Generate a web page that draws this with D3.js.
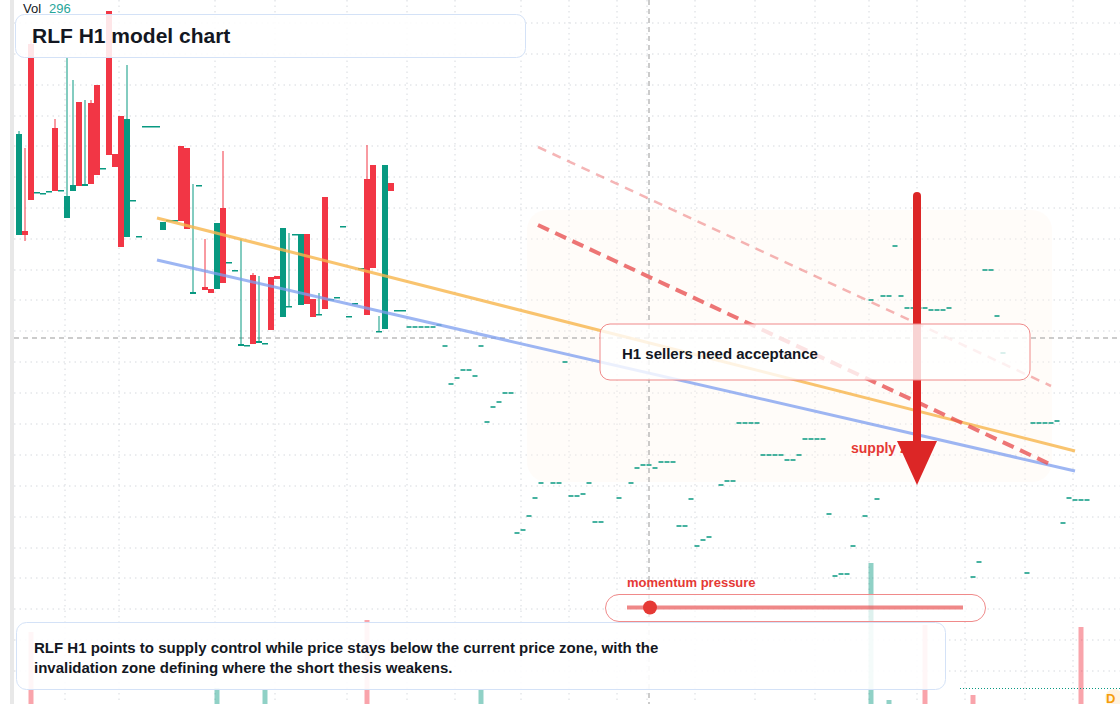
<!DOCTYPE html>
<html><head><meta charset="utf-8">
<script src="https://cdn.jsdelivr.net/npm/d3@7"></script>
<style>body{margin:0;background:#fff;font-family:"Liberation Sans",Arial,sans-serif}</style>
</head><body><svg id="c" width="1120" height="704"></svg>
<script>
// candle index, open, close, high, low
const cIdx  = [0,1,2,3,4,5,6,7,8,9,10,11,12,13,14,15,16,17,18,19,20,21,22,23,24,25,26,27,28,29,30,31,32,33,34,35,36,37,38,39,40,41,42,43,44,45,46,47,48,49,50,51,52,53,54,55,56,57,58,59,60,61,62,63,64];
const cOpen = [765,769,956,808,807,809,872,810,782,809,898,814,897,915,832,989,846,884,763,800,764,874,874,874,770,780,780,854,852,706,815,713,711,711,792,738,730,654,655,725,657,657,723,724,683,694,766,695,766,701,686,803,701,703,774,684,697,732,821,835,669,671,817,690,690];
const cClose= [866,765,800,808,807,809,809,810,804,815,814,816,816,825,832,845,833,753,881,800,764,874,874,874,778,780,780,779,771,708,815,710,707,777,717,738,730,656,655,656,659,657,670,721,772,694,766,766,696,683,686,691,701,703,774,684,697,732,685,732,669,835,809,690,690];
const cHigh = [869,852,960,808,807,809,881,810,942,920,898,900,900,915,832,989,846,884,935,800,764,874,874,874,778,780,780,854,852,816,815,761,711,777,849,738,730,761,655,727,724,657,723,724,772,767,766,766,766,701,707,803,701,703,774,684,697,732,855,835,684,835,817,690,690];
const cLow  = [765,759,800,808,807,809,809,810,782,809,814,814,816,825,832,845,833,753,763,800,764,874,874,874,770,780,780,779,771,706,815,710,707,711,717,738,730,654,655,656,657,657,670,721,683,694,766,695,696,683,686,691,701,703,774,684,697,732,685,732,669,671,809,690,690];
// flat (unchanged) bars later in the session
const fIdx = [65,66,67,68,69,70,71,72,73,74,75,76,77,78,79,80,81,82,83,84,85,86,87,89,90,91,92,93,94,95,96,97,100,102,103,104,105,106,107,108,109,110,111,112,113,114,115,117,118,119,120,121,122,123,124,125,126,127,128,129,130,131,132,133,134,135,136,137,138,139,141,142,143,144,145,146,147,148,149,150,151,152,153,154,155,159,160,161,162,163,164,168,169,170,171,172,173,174,175,176,177,178];
const fLvl = [673,673,673,673,673,675,654,616,622,630,630,624,654,578,593,598,607,607,467,470,484,502,517,517,517,638,504,504,506,517,478,478,502,517,532,535,535,532,538,538,538,474,474,501,454,460,463,515,519,519,577,577,577,577,545,545,545,545,540,540,545,561,561,561,561,486,424,426,426,454,484,700,501,704,704,754,704,692,692,692,692,690,690,690,692,423,438,730,730,684,647,427,577,577,577,577,579,477,502,500,500,500];
// volume
const vIdx = [2,33,41,58,77,142,145,151,159,177];
const vVal = [72,16,15,84,14,141,4,79,9,77];
const vUp  = [0,1,1,0,1,1,1,0,0,0];
const gridIdx = [8,17,33,43,55,65,73,84,92,100,105,113,123,133,142,150,158,168,176];
const gridLvl = [977,946,915,884,854,823,792,761,730,700,669,638,607,576,545,514,483,452,422,391,360,329];

const W=1120,H=704, svg=d3.select("#c");
const x=d3.scaleLinear().domain([0,180]).range([19,1099]);
const y=d3.scaleLinear().domain([296,1000]).range([704,0]);
const vy=d3.scaleLinear().domain([0,141]).range([704,563]);
const G="#089981",R="#f23645";

svg.append("rect").attr("x",10).attr("y",0).attr("width",4).attr("height",H).attr("fill","#e8e8e8");
const grid=svg.append("g").attr("stroke","#d6d9de").attr("stroke-dasharray","1.5 4").attr("stroke-width",1);
gridIdx.forEach(i=>grid.append("line").attr("x1",x(i)-2).attr("x2",x(i)-2).attr("y1",0).attr("y2",H));
gridLvl.forEach(p=>grid.append("line").attr("x1",14).attr("x2",W).attr("y1",y(p)).attr("y2",y(p)));

// faint zone
svg.append("rect").attr("x",527).attr("y",210).attr("width",525).attr("height",272).attr("rx",20).attr("fill","#fff5ee").attr("opacity",0.35);

// volume
vIdx.forEach((i,k)=>svg.append("rect").attr("x",x(i)-2.5).attr("width",5).attr("y",vy(vVal[k])).attr("height",704-vy(vVal[k])).attr("fill",vUp[k]?G:R).attr("opacity",0.45));

// crosshair
svg.append("line").attr("x1",649).attr("x2",649).attr("y1",0).attr("y2",H).attr("stroke","#999").attr("stroke-dasharray","5 4");
svg.append("line").attr("x1",14).attr("x2",W).attr("y1",y(662)).attr("y2",y(662)).attr("stroke","#999").attr("stroke-dasharray","5 4");

// candles
const cg=svg.append("g");
cIdx.forEach((i,k)=>{
  const o=cOpen[k],c=cClose[k],col=c>=o?G:R;
  if(cHigh[k]!==cLow[k]) cg.append("line").attr("x1",x(i)).attr("x2",x(i)).attr("y1",y(cHigh[k])).attr("y2",y(cLow[k])).attr("stroke",col).attr("stroke-width",1);
  const t=y(Math.max(o,c)),b=y(Math.min(o,c));
  cg.append("rect").attr("x",x(i)-3).attr("width",6).attr("y",t).attr("height",Math.max(1.5,b-t)).attr("fill",col);
});
fIdx.forEach((i,k)=>cg.append("rect").attr("x",x(i)-2.5).attr("width",5).attr("y",y(fLvl[k])-0.75).attr("height",1.5).attr("fill",G));

// trend lines
const ln=(x1,y1,x2,y2,col,w,op,dash)=>svg.append("line").attr("x1",x1).attr("y1",y(y1)).attr("x2",x2).attr("y2",y(y2)).attr("stroke",col).attr("stroke-width",w).attr("opacity",op).attr("stroke-dasharray",dash||null);
ln(x(23),782,x(176),549,"#f8b64c",3,0.8);
ln(x(23),740,x(176),529,"#7d9ef0",3,0.75);
ln(x(86.5),775,x(172.5),534,"#e8494a",4,0.75,"12 7");
ln(x(86.5),853,x(172),614,"#e8494a",2.5,0.4,"9 7");

// arrow
svg.append("line").attr("x1",917).attr("x2",917).attr("y1",196).attr("y2",445).attr("stroke","#dc2626").attr("stroke-width",8).attr("stroke-linecap","round");
svg.append("text").attr("x",851).attr("y",453).attr("fill","#e53935").attr("font-size",14).attr("font-weight","bold").text("supply zone");
svg.append("path").attr("d","M897,441 L937,441 L917,485 Z").attr("fill","#dc2626");

// annotation box
svg.append("rect").attr("x",600).attr("y",324).attr("width",430).attr("height",56).attr("rx",10).attr("fill","#fff").attr("fill-opacity",0.8).attr("stroke","#f08a8a");
svg.append("text").attr("x",622).attr("y",359).attr("font-size",15).attr("font-weight","bold").attr("fill","#131722").text("H1 sellers need acceptance");

// title
svg.append("text").attr("x",23).attr("y",13).attr("font-size",13).attr("fill","#131722").text("Vol");
svg.append("text").attr("x",49).attr("y",13).attr("font-size",13).attr("fill","#26a69a").text("296");
svg.append("rect").attr("x",15.5).attr("y",14.5).attr("width",510).attr("height",43).attr("rx",9).attr("fill","#fff").attr("fill-opacity",0.88).attr("stroke","#d4e2f7");
svg.append("text").attr("x",32).attr("y",43).attr("font-size",21).attr("font-weight","bold").attr("fill","#131722").text("RLF H1 model chart");

// momentum
svg.append("text").attr("x",627).attr("y",587).attr("font-size",13).attr("font-weight","bold").attr("fill","#e53935").text("momentum pressure");
svg.append("rect").attr("x",605.5).attr("y",594.5).attr("width",380).attr("height",27).attr("rx",13.5).attr("fill","#fff").attr("fill-opacity",0.7).attr("stroke","#f08a8a");
svg.append("line").attr("x1",627).attr("x2",963).attr("y1",607.5).attr("y2",607.5).attr("stroke","#e8494a").attr("stroke-width",4).attr("opacity",0.65);
svg.append("circle").attr("cx",650).attr("cy",607.5).attr("r",7).attr("fill","#e53935");

// footnote
svg.append("rect").attr("x",16.5).attr("y",622.5).attr("width",929).attr("height",67).attr("rx",10).attr("fill","#fff").attr("fill-opacity",0.9).attr("stroke","#d4e2f7");
svg.append("text").attr("x",34).attr("y",653).attr("font-size",15).attr("font-weight","bold").attr("fill","#131722").text("RLF H1 points to supply control while price stays below the current price zone, with the");
svg.append("text").attr("x",34).attr("y",673).attr("font-size",15).attr("font-weight","bold").attr("fill","#131722").text("invalidation zone defining where the short thesis weakens.");

svg.append("line").attr("x1",960).attr("x2",W).attr("y1",688.5).attr("y2",688.5).attr("stroke","#089981").attr("stroke-dasharray","1 2");
svg.append("circle").attr("cx",1114).attr("cy",698).attr("r",9).attr("fill","#fff3e0");
svg.append("text").attr("x",1106).attr("y",703).attr("font-size",13).attr("font-weight","bold").attr("fill","#f59e0b").text("D");
</script></body></html>
